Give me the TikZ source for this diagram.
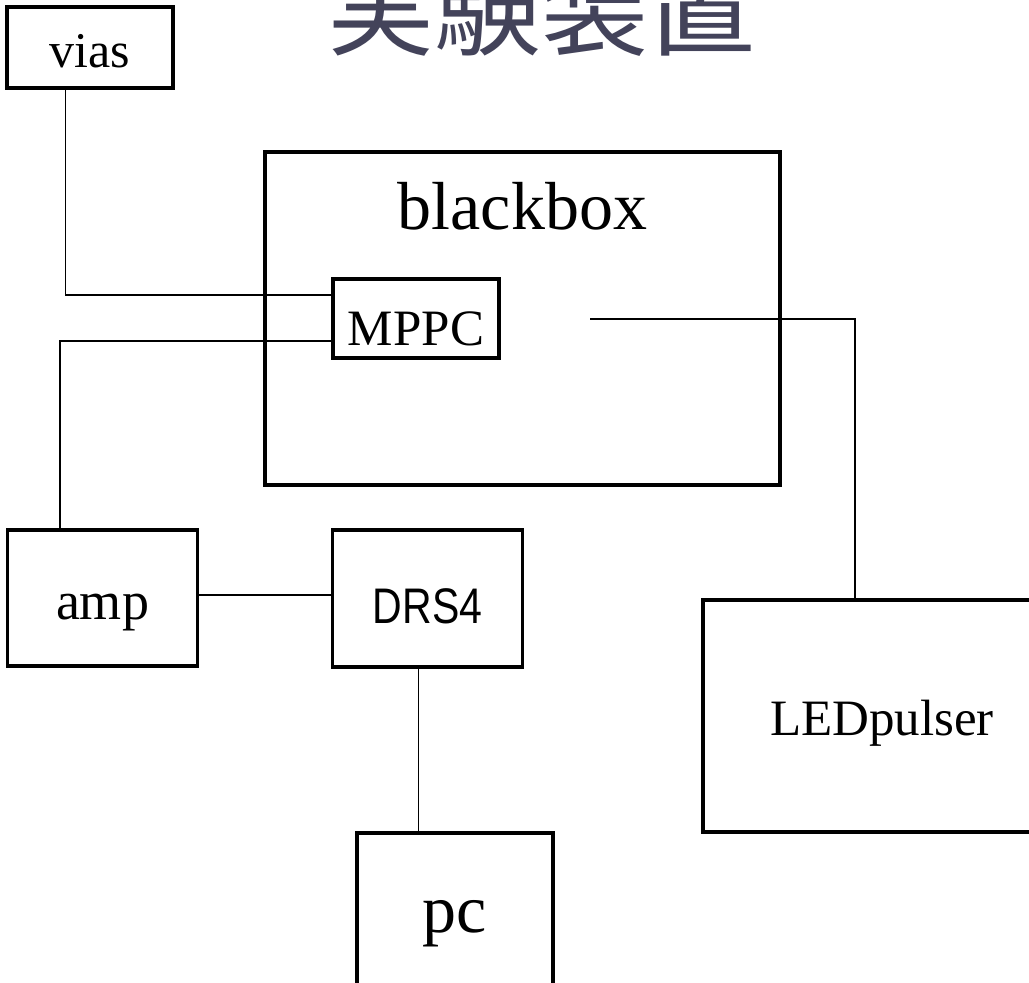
\documentclass[tikz,border=0pt]{standalone}
\usepackage{fontspec}
\setmainfont{Liberation Serif}
\newfontfamily\drsfont[FakeStretch=0.82]{Liberation Sans}
\newfontfamily\jpfont{Noto Sans CJK JP}
\definecolor{titlecol}{HTML}{43435A}
\newcommand{\fs}[1]{\fontsize{#1}{#1}\selectfont}
\newcommand{\bl}[2]{\raisebox{-#1}[0pt][0pt]{#2}}
\begin{document}
\begin{tikzpicture}[x=1pt,y=-1pt,
  box/.style={draw=black, line width=3.3pt, rectangle, inner sep=0pt, text=black},
  wire/.style={draw=black, line width=1.6pt}]
\useasboundingbox (0,0) rectangle (1029,983);
\fill[white] (0,0) rectangle (1029,983);
% title
\node[anchor=base, text=titlecol, font=\jpfont\fs{107}, inner sep=0pt] (title) at (541,47) {実験装置};
% boxes
\node[box, minimum width=166pt, minimum height=81pt, font=\fs{50}] (vias) at (90,47.5) {\bl{19.5pt}{vias}};
\node[box, minimum width=515pt, minimum height=333pt,
  label={[anchor=base, yshift=-79pt, font=\fs{68}, inner sep=0pt]north:blackbox}] (bb) at (522.5,318.5) {};
\node[box, minimum width=166pt, minimum height=79pt, font=\fs{51}] (mppc) at (416,318.5) {\bl{26.5pt}{MPPC}};
\node[box, minimum width=190pt, minimum height=136pt, font=\fs{54}] (amp) at (102.5,598) {\bl{21pt}{amp}};
\node[box, minimum width=190pt, minimum height=137pt, font=\drsfont\fs{50}] (drs4) at (427.5,598.5) {\bl{24.5pt}{DRS4}};
\node[box, minimum width=358pt, minimum height=232pt, font=\fs{51}] (led) at (882,716) {\bl{19pt}{LEDpulser}};
\node[box, minimum width=196pt, minimum height=182pt, font=\fs{68}] (pc) at (455,924) {\bl{8pt}{pc}};
\coordinate (ledend) at (590,319);
% connectors
\draw[wire] ([xshift=60pt]vias.south west) |- ([yshift=23.5pt]mppc.west);
\draw[wire] ([yshift=-22.5pt]mppc.west) -| ([xshift=54pt]amp.north west);
\draw[wire] ([yshift=3pt]amp.east) -- ([yshift=3pt]amp.east -| drs4.west);
\draw[wire] ([xshift=-9pt]drs4.south) -- ([xshift=-9pt]drs4.south |- pc.north);
\draw[wire] (ledend) -| ([xshift=-27pt]led.north);
\end{tikzpicture}
\end{document}
